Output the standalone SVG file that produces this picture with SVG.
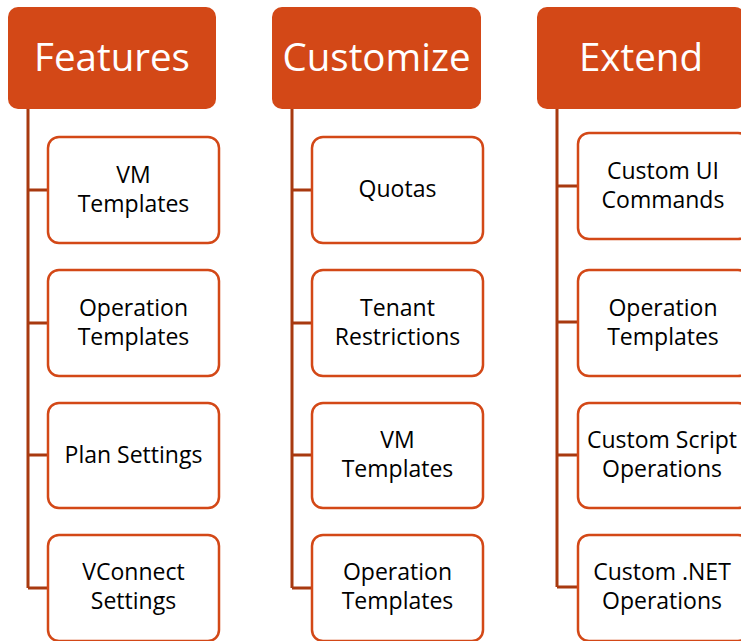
<svg xmlns="http://www.w3.org/2000/svg" width="741" height="641" viewBox="0 0 741 641">
  <style>
    .head rect { fill: #D34817; }
    .head text { fill: #FFFFFF; font-family: "Open Sans", "Liberation Sans", sans-serif; font-size: 38.5px; text-anchor: middle; }
    .item rect { fill: #FFFFFF; stroke: #D34817; stroke-width: 2.5; }
    .item text { fill: #000000; font-family: "Open Sans", "Liberation Sans", sans-serif; font-size: 23px; text-anchor: middle; }
    .links path { fill: none; stroke: #A8390F; stroke-width: 3; }
  </style>
  <rect width="741" height="641" fill="#FFFFFF"/>

  <!-- tree lines from each header to its items -->
  <g id="connectors" class="links">
    <path d="M28,109 V588 M28,190 H48 M28,323 H48 M28,455 H48 M28,588 H48"/>
    <path d="M292,109 V588 M292,190 H312 M292,323 H312 M292,455 H312 M292,588 H312"/>
    <path d="M557,109 V587 M557,186 H578 M557,322 H578 M557,455 H578 M557,587 H578"/>
  </g>

  <!-- column 1 -->
  <g id="features" class="head">
    <rect x="8" y="7" width="208" height="102" rx="10"/>
    <text x="112" y="71">Features</text>
  </g>
  <g id="f-vm" class="item">
    <rect x="48" y="137" width="171" height="106" rx="11"/>
    <text x="133.5" y="183">VM</text>
    <text x="133.5" y="212">Templates</text>
  </g>
  <g id="f-op" class="item">
    <rect x="48" y="270" width="171" height="106" rx="11"/>
    <text x="133.5" y="316">Operation</text>
    <text x="133.5" y="345">Templates</text>
  </g>
  <g id="f-plan" class="item">
    <rect x="48" y="403" width="171" height="105" rx="11"/>
    <text x="133.5" y="463">Plan Settings</text>
  </g>
  <g id="f-vconnect" class="item">
    <rect x="48" y="535" width="171" height="106" rx="11"/>
    <text x="133.5" y="580">VConnect</text>
    <text x="133.5" y="609">Settings</text>
  </g>

  <!-- column 2 -->
  <g id="customize" class="head">
    <rect x="272" y="7" width="209" height="102" rx="10"/>
    <text x="376.5" y="71">Customize</text>
  </g>
  <g id="c-quotas" class="item">
    <rect x="312" y="137" width="171" height="106" rx="11"/>
    <text x="397.5" y="197">Quotas</text>
  </g>
  <g id="c-tenant" class="item">
    <rect x="312" y="270" width="171" height="106" rx="11"/>
    <text x="397.5" y="316">Tenant</text>
    <text x="397.5" y="345">Restrictions</text>
  </g>
  <g id="c-vm" class="item">
    <rect x="312" y="403" width="171" height="105" rx="11"/>
    <text x="397.5" y="448">VM</text>
    <text x="397.5" y="477">Templates</text>
  </g>
  <g id="c-op" class="item">
    <rect x="312" y="535" width="171" height="106" rx="11"/>
    <text x="397.5" y="580">Operation</text>
    <text x="397.5" y="609">Templates</text>
  </g>

  <!-- column 3 -->
  <g id="extend" class="head">
    <rect x="537" y="7" width="208" height="102" rx="10"/>
    <text x="641" y="71">Extend</text>
  </g>
  <g id="e-ui" class="item">
    <rect x="578" y="133" width="171" height="106" rx="11"/>
    <text x="663" y="179">Custom UI</text>
    <text x="663" y="208">Commands</text>
  </g>
  <g id="e-op" class="item">
    <rect x="578" y="270" width="171" height="106" rx="11"/>
    <text x="663" y="316">Operation</text>
    <text x="663" y="345">Templates</text>
  </g>
  <g id="e-script" class="item">
    <rect x="578" y="403" width="171" height="105" rx="11"/>
    <text x="662" y="448">Custom Script</text>
    <text x="662" y="477">Operations</text>
  </g>
  <g id="e-net" class="item">
    <rect x="578" y="535" width="171" height="106" rx="11"/>
    <text x="662" y="580">Custom .NET</text>
    <text x="662" y="609">Operations</text>
  </g>
</svg>
